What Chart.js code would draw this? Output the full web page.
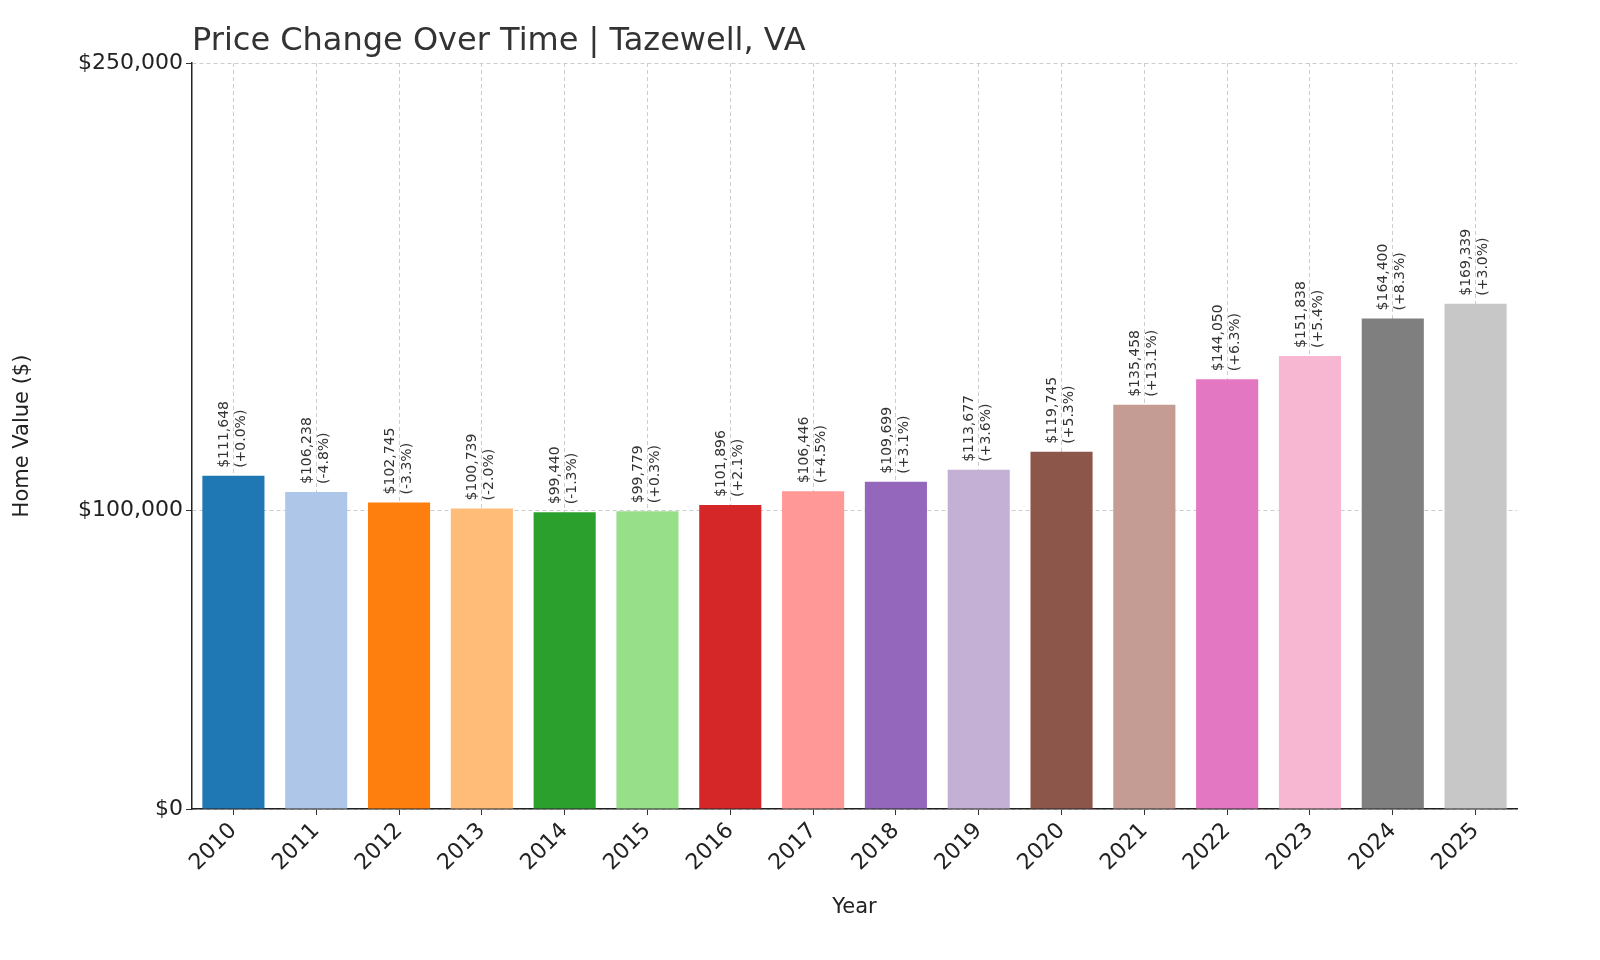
<!DOCTYPE html>
<html>
<head>
<meta charset="utf-8">
<script src="https://cdn.jsdelivr.net/npm/chart.js@4"></script>
<style>
  body { margin: 0; background: #fff; }
  #wrap { width: 1600px; height: 960px; }
</style>
</head>
<body>
<div id="wrap"><canvas id="c" width="1600" height="960"></canvas></div>
<script>
const years = ['2010','2011','2012','2013','2014','2015','2016','2017','2018','2019','2020','2021','2022','2023','2024','2025'];
const values = [111648,106238,102745,100739,99440,99779,101896,106446,109699,113677,119745,135458,144050,151838,164400,169339];
const changes = ['+0.0%','-4.8%','-3.3%','-2.0%','-1.3%','+0.3%','+2.1%','+4.5%','+3.1%','+3.6%','+5.3%','+13.1%','+6.3%','+5.4%','+8.3%','+3.0%'];
const yTicks = [0, 100000, 250000];
const colors = ['#1f77b4','#aec7e8','#ff7f0e','#ffbb78','#2ca02c','#98df8a','#d62728','#ff9896','#9467bd','#c5b0d5','#8c564b','#c49c94','#e377c2','#f7b6d2','#7f7f7f','#c7c7c7'];

const font = '"DejaVu Sans", sans-serif';

// value labels above bars + title
const labelPlugin = {
  id: 'labels',
  afterDatasetsDraw(chart) {
    const ctx = chart.ctx;
    const meta = chart.getDatasetMeta(0);
    ctx.save();
    ctx.fillStyle = '#333';
    ctx.font = '14px ' + font;
    ctx.textAlign = 'left';
    ctx.textBaseline = 'middle';
    meta.data.forEach((bar, i) => {
      ctx.save();
      ctx.translate(bar.x, bar.y - 8);
      ctx.rotate(-Math.PI / 2);
      ctx.fillText('$' + values[i].toLocaleString('en-US'), 0, -9);
      ctx.fillText('(' + changes[i] + ')', 0, 8);
      ctx.restore();
    });
    ctx.font = '32px ' + font;
    ctx.fillStyle = '#333';
    ctx.textBaseline = 'alphabetic';
    ctx.fillText('Price Change Over Time | Tazewell, VA', chart.chartArea.left, 50);
    ctx.restore();
  }
};

new Chart(document.getElementById('c'), {
  type: 'bar',
  data: {
    labels: years,
    datasets: [{ data: values, backgroundColor: colors, barPercentage: 0.75, categoryPercentage: 1 }]
  },
  options: {
    responsive: false,
    animation: false,
    layout: { padding: { left: 10, right: 83, top: 63, bottom: 0 } },
    plugins: { legend: { display: false }, tooltip: { enabled: false } },
    scales: {
      x: {
        grid: { color: '#ccc', offset: false, tickColor: '#333', tickLength: 6 },
        border: { color: '#222', width: 1.5, dash: [4, 3] },
        ticks: { color: '#222', font: { size: 22, family: font }, maxRotation: 45, minRotation: 45 },
        title: { display: true, text: 'Year', color: '#222', font: { size: 21, family: font }, padding: { top: 0, bottom: 40 } },
        afterFit(s) { s.height = 151; }
      },
      y: {
        min: 0, max: 250000,
        afterBuildTicks(s) { s.ticks = yTicks.map(v => ({ value: v })); },
        grid: { color: '#ccc', tickColor: '#333', tickLength: 6 },
        border: { color: '#222', width: 1.5, dash: [4, 3] },
        ticks: { color: '#222', font: { size: 22, family: font }, callback: v => '$' + v.toLocaleString('en-US') },
        title: { display: true, text: 'Home Value ($)', color: '#222', font: { size: 21, family: font }, padding: { top: 0, bottom: 0 } },
        afterFit(s) { s.width = 182; }
      }
    }
  },
  plugins: [labelPlugin]
});
</script>
</body>
</html>
